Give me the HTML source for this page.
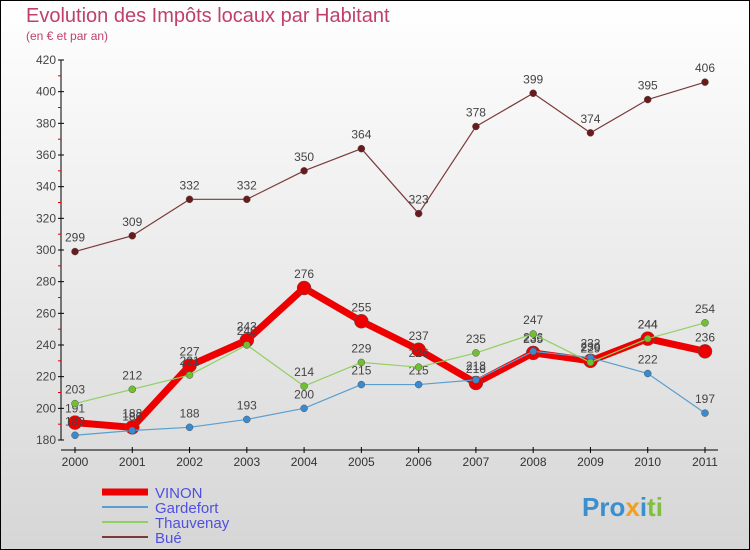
<!DOCTYPE html>
<html><head><meta charset="utf-8"><style>
body{margin:0}
#c{width:750px;height:550px;position:relative;overflow:hidden;font-family:"Liberation Sans",sans-serif}
</style></head><body>
<div id="c">
<svg id="s" width="750" height="550" xmlns="http://www.w3.org/2000/svg">
<defs><linearGradient id="bg" x1="0" y1="0" x2="0" y2="1"><stop offset="0" stop-color="#ffffff"/><stop offset="1" stop-color="#d6d6d6"/></linearGradient></defs>
<rect x="0.5" y="0.5" width="749" height="549" fill="url(#bg)" stroke="#000"/>
<text x="26" y="22" font-size="20" fill="#c0406a">Evolution des Impôts locaux par Habitant</text>
<text x="26" y="40" font-size="12" fill="#c0406a">(en € et par an)</text>
<g id="axes"></g><g id="series"></g><g id="legend"></g>
<text x="582" y="516" font-size="26" font-weight="bold" fill="#3a8fd0">Pro<tspan fill="#f0a020">x</tspan><tspan fill="#3a8fd0">i</tspan><tspan fill="#80c040">ti</tspan></text>
</svg>
</div>
<script>
const years=["2000","2001","2002","2003","2004","2005","2006","2007","2008","2009","2010","2011"];
const yTicks=[180,200,220,240,260,280,300,320,340,360,380,400,420];
const vinon=[191,188,227,243,276,255,237,216,235,230,244,236];
const gardefort=[183,186,188,193,200,215,215,218,236,232,222,197];
const thauvenay=[203,212,221,240,214,229,226,235,247,229,244,254];
const bue=[299,309,332,332,350,364,323,378,399,374,395,406];
const seriesNames=["VINON","Gardefort","Thauvenay","Bué"];
const NS="http://www.w3.org/2000/svg";
function X(i){return 75+i*(630/11);}
function Y(v){return 440-(v-180)*(380/240);}
function mk(t,a,p){const e=document.createElementNS(NS,t);for(const k in a)e.setAttribute(k,a[k]);p.appendChild(e);return e;}
const ax=document.getElementById('axes');
let yl=mk('line',{x1:61,y1:60,x2:61,y2:440,stroke:'#000'},ax);


let xl=mk('line',{x1:61,y1:450,x2:718,y2:450,stroke:'#000'},ax);


yTicks.forEach((v,i)=>{
 mk('line',{x1:58,y1:Y(v),x2:64,y2:Y(v),stroke:'#000'},ax);
 if(i<yTicks.length-1) mk('line',{x1:58,y1:Y(v+10),x2:61,y2:Y(v+10),stroke:'#d00'},ax);
 const t=mk('text',{x:56,y:Y(v)+4,'font-size':12,fill:'#444','text-anchor':'end'},ax);
 t.textContent=v;
 
 
});
years.forEach((y,i)=>{
 mk('line',{x1:X(i),y1:447,x2:X(i),y2:453,stroke:'#000'},ax);
 const t=mk('text',{x:X(i),y:466,'font-size':12,fill:'#333','text-anchor':'middle'},ax);
 t.textContent=y;
 
 
});
const sg=document.getElementById('series');
function draw(data,color,w,r,mcol,name){
 const g=mk('g',{},sg);
 
 
 const p=mk('polyline',{points:data.map((v,i)=>X(i)+','+Y(v)).join(' '),fill:'none',stroke:color,'stroke-width':w,'stroke-linejoin':'round'},g);
 
 
 data.forEach((v,i)=>{
  const c=mk('circle',{cx:X(i),cy:Y(v),r:r,fill:mcol,stroke:'#555','stroke-width':0.5},g);
  
  
  const t=mk('text',{x:X(i),y:Y(v)-10,'font-size':12,fill:'#444','text-anchor':'middle'},g);
  t.textContent=v;
  
  
 });
}
draw(bue,'#7a3a3a',1.2,3.5,'#6a1a1a','bue');
draw(vinon,'#ee0000',7,7,'#ee0000','vinon');
draw(gardefort,'#5a9fd0',1.2,3.5,'#3a8ad0','gardefort');
draw(thauvenay,'#90d060',1.2,3.5,'#70c030','thauvenay');
const lg=document.getElementById('legend');
const lc=['#ee0000','#5a9fd0','#90d060','#7a3a3a'],lw=[7,2,2,2];
seriesNames.forEach((n,i)=>{
 const y=492+i*15;
 const l=mk('line',{x1:102,y1:y,x2:148,y2:y,stroke:lc[i],'stroke-width':lw[i]},lg);
 
 
 const t=mk('text',{x:155,y:y+6,'font-size':15,fill:'#5050e0'},lg);
 t.textContent=n;
 
 
});
</script>
</body></html>
